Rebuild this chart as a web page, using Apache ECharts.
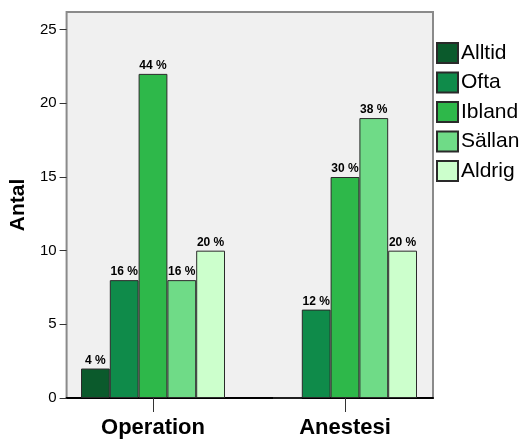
<!DOCTYPE html>
<html>
<head>
<meta charset="utf-8">
<script src="https://cdn.jsdelivr.net/npm/echarts@6/dist/echarts.min.js"></script>
<style>
  html, body { margin: 0; padding: 0; background: #ffffff; }
  #chart { width: 525px; height: 442px; }
</style>
</head>
<body>
<div id="chart"></div>
<script>
// Answer groups (x categories)
const categories = ['Operation', 'Anestesi'];

// Response options, one series each
const seriesNames = ['Alltid', 'Ofta', 'Ibland', 'Sällan', 'Aldrig'];

// Counts per response option, in category order
const alltid = [2, 0];
const ofta = [8, 6];
const ibland = [22, 15];
const sallan = [8, 19];
const aldrig = [10, 10];

const yTicks = [0, 5, 10, 15, 20, 25];

const colors = ['#0b5a2c', '#0f8b4a', '#2eb84a', '#6fdb87', '#ccffcc'];

const seriesValues = [alltid, ofta, ibland, sallan, aldrig];

// Totals per category, used for the percentage labels
const totals = categories.map((_, i) => seriesValues.reduce((s, arr) => s + arr[i], 0));

const FONT = '"Liberation Sans", Arial, sans-serif';
const Y_MAX = 26.2;

const chart = echarts.init(document.getElementById('chart'), null, { renderer: 'canvas' });

const option = {
  animation: false,
  backgroundColor: '#ffffff',
  textStyle: { fontFamily: FONT },
  grid: [
    // framed plot area carrying the count axis
    {
      left: 64, right: 92, top: 12, bottom: 44,
      show: true, backgroundColor: '#f0f0f0',
      borderColor: '#8a8a8a', borderWidth: 2
    },
    // bar layout grid
    { left: 57, right: 84, top: 12, bottom: 44 }
  ],
  xAxis: [
    {
      gridIndex: 0, type: 'value', min: 0, max: 1,
      axisLine: { show: true, onZero: false, lineStyle: { color: '#000000', width: 2 } },
      axisTick: { show: false }, axisLabel: { show: false }, splitLine: { show: false }
    },
    {
      gridIndex: 1, type: 'category', data: categories,
      axisLine: { show: false },
      axisTick: { show: true, alignWithLabel: true, length: 14, lineStyle: { color: '#333333', width: 1 } },
      axisLabel: { margin: 19, fontSize: 22, fontWeight: 'bold', color: '#000000', fontFamily: FONT },
      splitLine: { show: false }
    }
  ],
  yAxis: [
    {
      gridIndex: 0, type: 'value', min: 0, max: Y_MAX, interval: 5,
      name: 'Antal', nameLocation: 'middle', nameRotate: 90, nameGap: 36,
      nameTextStyle: { fontSize: 21, fontWeight: 'bold', color: '#000000', fontFamily: FONT },
      axisLine: { show: false },
      axisTick: { show: true, length: 7, customValues: yTicks, lineStyle: { color: '#333333', width: 1 } },
      axisLabel: {
        margin: 10, fontSize: 15, color: '#000000', fontFamily: FONT,
        customValues: yTicks
      },
      splitLine: { show: false }
    },
    {
      gridIndex: 1, type: 'value', min: 0, max: Y_MAX, show: false
    }
  ],
  legend: {
    orient: 'vertical', left: 436, top: 42, padding: 0,
    itemWidth: 21, itemHeight: 20, itemGap: 7.5,
    icon: 'rect',
    data: seriesNames,
    textStyle: { fontSize: 21, color: '#000000', fontFamily: FONT, padding: [0, 0, 0, -2] }
  },
  series: seriesNames.map((name, k) => ({
    name: name,
    type: 'bar',
    xAxisIndex: 1, yAxisIndex: 1,
    data: seriesValues[k],
    barGap: '0%',
    barCategoryGap: '25%',
    itemStyle: { color: colors[k], borderColor: '#2a2a2a', borderWidth: 1 },
    label: {
      show: true, position: 'top', distance: 2,
      fontSize: 12, fontWeight: 'bold', color: '#000000', fontFamily: FONT,
      formatter: p => (p.value > 0 ? Math.round(p.value / totals[p.dataIndex] * 100) + ' %' : '')
    }
  }))
};

chart.setOption(option);
</script>
</body>
</html>
